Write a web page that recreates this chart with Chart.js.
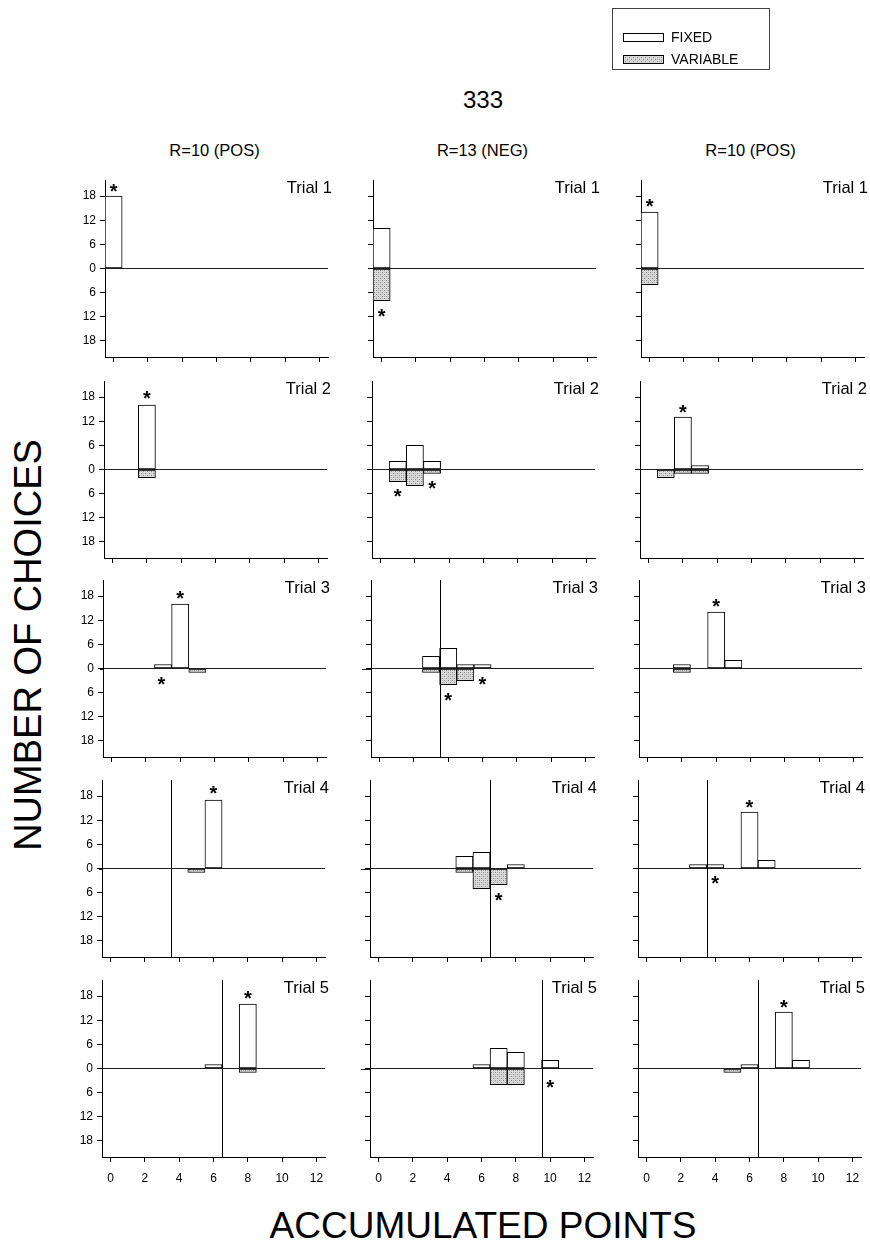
<!DOCTYPE html>
<html><head><meta charset="utf-8">
<script src="https://cdn.jsdelivr.net/npm/chart.js@4.4.1/dist/chart.umd.min.js"></script>
<style>
body{margin:0;background:#fff;width:870px;height:1249px;position:relative;overflow:hidden;font-family:"Liberation Sans",Arial,sans-serif;color:#000}
.t{position:absolute;white-space:nowrap;transform:translate(-50%,-50%);line-height:1}
canvas{position:absolute}
#legend{position:absolute;left:612px;top:8px;width:158px;height:62px;border:1px solid #444;box-sizing:border-box}
#legend .it{position:absolute;left:10px;height:16px;display:flex;align-items:center;font-size:14px}
#legend canvas{position:static;margin-right:7px}
</style></head><body>
<div id="legend">
  <div class="it" style="top:20px"><canvas id="swF" width="41" height="9"></canvas>FIXED</div>
  <div class="it" style="top:42px"><canvas id="swV" width="41" height="9"></canvas>VARIABLE</div>
</div>
<div class="t" style="left:483px;top:100px;font-size:24px">333</div>
<div class="t" id="yTitle" style="left:28px;top:645px;font-size:38px;transform:translate(-50%,-50%) rotate(-90deg)">NUMBER OF CHOICES</div>
<div class="t" style="left:483px;top:1225px;font-size:37px">ACCUMULATED POINTS</div>
<script>
// ---------- data ----------
const xLabels = ['0','1','2','3','4','5','6','7','8','9','10','11','12'];
const yTickValues = [-18, -12, -6, 0, 6, 12, 18];
const trialNames = ['Trial 1', 'Trial 2', 'Trial 3', 'Trial 4', 'Trial 5'];
const columnTitles = ['R=10 (POS)', 'R=13 (NEG)', 'R=10 (POS)'];

// Column 1: R=10 (POS)  (number of choices at each accumulated-points value)
const fixedCol1 = [
  [18,0,0,0,0,0,0,0,0,0,0,0,0],
  [0,0,16,0,0,0,0,0,0,0,0,0,0],
  [0,0,0,1,16,0,0,0,0,0,0,0,0],
  [0,0,0,0,0,0,17,0,0,0,0,0,0],
  [0,0,0,0,0,0,1,0,16,0,0,0,0]
];
const variableCol1 = [
  [0,0,0,0,0,0,0,0,0,0,0,0,0],
  [0,0,2,0,0,0,0,0,0,0,0,0,0],
  [0,0,0,0,0,1,0,0,0,0,0,0,0],
  [0,0,0,0,0,1,0,0,0,0,0,0,0],
  [0,0,0,0,0,0,0,0,1,0,0,0,0]
];
// Column 2: R=13 (NEG)
const fixedCol2 = [
  [10,0,0,0,0,0,0,0,0,0,0,0,0],
  [0,2,6,2,0,0,0,0,0,0,0,0,0],
  [0,0,0,3,5,1,1,0,0,0,0,0,0],
  [0,0,0,0,0,3,4,0,1,0,0,0,0],
  [0,0,0,0,0,0,1,5,4,0,2,0,0]
];
const variableCol2 = [
  [8,0,0,0,0,0,0,0,0,0,0,0,0],
  [0,3,4,1,0,0,0,0,0,0,0,0,0],
  [0,0,0,1,4,3,0,0,0,0,0,0,0],
  [0,0,0,0,0,1,5,4,0,0,0,0,0],
  [0,0,0,0,0,0,0,4,4,0,0,0,0]
];
// Column 3: R=10 (POS)
const fixedCol3 = [
  [14,0,0,0,0,0,0,0,0,0,0,0,0],
  [0,0,13,1,0,0,0,0,0,0,0,0,0],
  [0,0,1,0,14,2,0,0,0,0,0,0,0],
  [0,0,0,1,1,0,14,2,0,0,0,0,0],
  [0,0,0,0,0,0,1,0,14,2,0,0,0]
];
const variableCol3 = [
  [4,0,0,0,0,0,0,0,0,0,0,0,0],
  [0,2,1,1,0,0,0,0,0,0,0,0,0],
  [0,0,1,0,0,0,0,0,0,0,0,0,0],
  [0,0,0,0,0,0,0,0,0,0,0,0,0],
  [0,0,0,0,0,1,0,0,0,0,0,0,0]
];
// vertical reference line (accumulated points criterion) per trial
const refLineCol1 = [null, null, null, 3.5, 6.5];
const refLineCol2 = [null, null, 3.5, 6.5, 9.5];
const refLineCol3 = [null, null, null, 3.5, 6.5];
// asterisk markers [x, y] per trial
const starsCol1 = [[[0,20.4]], [[2,19]], [[4,18.7],[2.9,-2.7]], [[6,19.9]], [[8,18.7]]];
const starsCol2 = [[[0,-10.6]], [[1,-5.5],[3,-3.4]], [[4,-6.6],[6,-2.7]], [[7,-6.7]], [[10,-3.5]]];
const starsCol3 = [[[0,16.6]], [[2,15.4]], [[4,16.6]], [[6,16.4],[4,-2.5]], [[8,16.4]]];

const fixedCols = [fixedCol1, fixedCol2, fixedCol3];
const variableCols = [variableCol1, variableCol2, variableCol3];
const refCols = [refLineCol1, refLineCol2, refLineCol3];
const starCols = [starsCol1, starsCol2, starsCol3];

// ---------- layout ----------
const FONT = '"Liberation Sans", Arial, sans-serif';
const colLeft = [105, 373, 641];
const rowShift = [0, -1, -2, -3, -3];
const rowTop = [180, 381, 580, 780, 980];
// how far the zero line runs left of the y axis (px), per column per row
const zeroLead = [[0,0,3,3,0],[0,0,9,9,9],[0,0,0,0,0]];
const PW = 223, PH = 177, PADL = 45, PADT = 10, PADR = 15, PADB = 34;
const headerY = 150;

// stipple pattern
function makePattern() {
  const c = document.createElement('canvas'); c.width = 4; c.height = 4;
  const g = c.getContext('2d');
  g.fillStyle = '#dadada'; g.fillRect(0,0,4,4);
  g.fillStyle = '#8a8a8a'; g.fillRect(0,0,1,1); g.fillRect(2,2,1,1);
  g.fillStyle = '#b5b5b5'; g.fillRect(2,0,1,1); g.fillRect(0,2,1,1);
  return g.createPattern(c, 'repeat');
}
const stipple = makePattern();

// legend swatches
(function(){
  const f = document.getElementById('swF').getContext('2d');
  f.fillStyle = '#fff'; f.fillRect(0,0,41,9); f.strokeStyle = '#000'; f.lineWidth = 1; f.strokeRect(0.5,0.5,40,8);
  const v = document.getElementById('swV').getContext('2d');
  v.fillStyle = stipple; v.fillRect(0,0,41,9); v.strokeStyle = '#000'; v.strokeRect(0.5,0.5,40,8);
})();

// column headers
columnTitles.forEach((t, c) => {
  const d = document.createElement('div');
  d.className = 't'; d.style.left = (colLeft[c] + PW/2 - 2) + 'px'; d.style.top = headerY + 'px';
  d.style.fontSize = '16.5px'; d.textContent = t;
  document.body.appendChild(d);
});

const panelDecor = {
  id: 'panelDecor',
  beforeDatasetsDraw(chart, args, opts) {
    if (!opts.zeroLead) return;
    const {ctx, chartArea, scales: {y}} = chart;
    const py = Math.round(y.getPixelForValue(0)) + 0.5;
    ctx.save(); ctx.strokeStyle = '#222'; ctx.lineWidth = 1;
    ctx.beginPath(); ctx.moveTo(chartArea.left - opts.zeroLead, py); ctx.lineTo(chartArea.left, py); ctx.stroke();
    ctx.restore();
  },
  afterDatasetsDraw(chart, args, opts) {
    const {ctx, chartArea, scales: {x, y}} = chart;
    ctx.save();
    if (opts.refLine != null) {
      const px = Math.round(x.getPixelForValue(opts.refLine)) + 0.5;
      ctx.strokeStyle = '#000'; ctx.lineWidth = 1;
      ctx.beginPath(); ctx.moveTo(px, chartArea.top); ctx.lineTo(px, chartArea.bottom); ctx.stroke();
    }
    ctx.fillStyle = '#000';
    ctx.font = 'bold 20px ' + FONT;
    ctx.textAlign = 'center'; ctx.textBaseline = 'alphabetic';
    (opts.stars || []).forEach(([sx, sy]) => {
      ctx.fillText('*', x.getPixelForValue(sx), y.getPixelForValue(sy) + 11.5);
    });
    ctx.font = '16.5px ' + FONT;
    ctx.textAlign = 'right'; ctx.textBaseline = 'middle';
    ctx.fillText(opts.label, chartArea.right + 4, chartArea.top + 8);
    ctx.restore();
  }
};

for (let c = 0; c < 3; c++) {
  for (let r = 0; r < 5; r++) {
    const isLeft = c === 0, isBottom = r === 4;
    const cv = document.createElement('canvas');
    const W = PADL + PW + PADR, H = PADT + PH + PADB;
    cv.width = W; cv.height = H;
    cv.style.left = (colLeft[c] + rowShift[r] - PADL) + 'px';
    cv.style.top = (rowTop[r] - PADT) + 'px';
    cv.style.width = W + 'px'; cv.style.height = H + 'px';
    document.body.appendChild(cv);
    new Chart(cv, {
      type: 'bar',
      data: {
        labels: xLabels,
        datasets: [
          { label: 'FIXED', data: fixedCols[c][r].map(v => v ? v : null),
            backgroundColor: '#fff', borderColor: '#000', borderWidth: 1, borderSkipped: false,
            grouped: false, barPercentage: 1, categoryPercentage: 1 },
          { label: 'VARIABLE', data: variableCols[c][r].map(v => v ? -v : null),
            backgroundColor: stipple, borderColor: '#000', borderWidth: 1, borderSkipped: false,
            grouped: false, barPercentage: 1, categoryPercentage: 1 }
        ]
      },
      options: {
        responsive: false, animation: false, devicePixelRatio: 1,
        layout: { padding: { left: 0, top: PADT, right: PADR, bottom: 0 } },
        plugins: {
          legend: { display: false }, tooltip: { enabled: false },
          panelDecor: { refLine: refCols[c][r], stars: starCols[c][r], label: trialNames[r], zeroLead: zeroLead[c][r] }
        },
        scales: {
          x: {
            type: 'category', offset: true,
            grid: { offset: false, drawOnChartArea: false, drawTicks: true, tickLength: 5,
                    tickColor: (ctx) => (ctx.index % 2 === 0 ? '#000' : 'rgba(0,0,0,0)') },
            border: { display: true, color: '#000', width: 1 },
            ticks: { display: isBottom, autoSkip: false, maxRotation: 0, minRotation: 0, padding: 9,
                     color: '#000', font: { family: FONT, size: 12 },
                     callback: function (v, i) { return i % 2 === 0 ? this.getLabelForValue(v) : ''; } },
            afterFit: (s) => { s.height = PADB; s.paddingLeft = 0; s.paddingRight = 0; }
          },
          y: {
            type: 'linear', min: -22, max: 22,
            afterBuildTicks: (s) => { s.ticks = yTickValues.map(v => ({ value: v })); },
            grid: { drawOnChartArea: true, drawTicks: true, tickLength: 5, tickColor: '#000',
                    color: (ctx) => (ctx.tick && ctx.tick.value === 0 ? '#222' : 'rgba(0,0,0,0)') },
            border: { display: true, color: '#000', width: 1 },
            ticks: { display: isLeft, padding: 4, color: '#000', font: { family: FONT, size: 12 },
                     callback: (v) => Math.abs(v) },
            afterFit: (s) => { s.width = PADL; s.paddingTop = 0; s.paddingBottom = 0; }
          }
        }
      },
      plugins: [panelDecor]
    });
  }
}
</script>
</body></html>
